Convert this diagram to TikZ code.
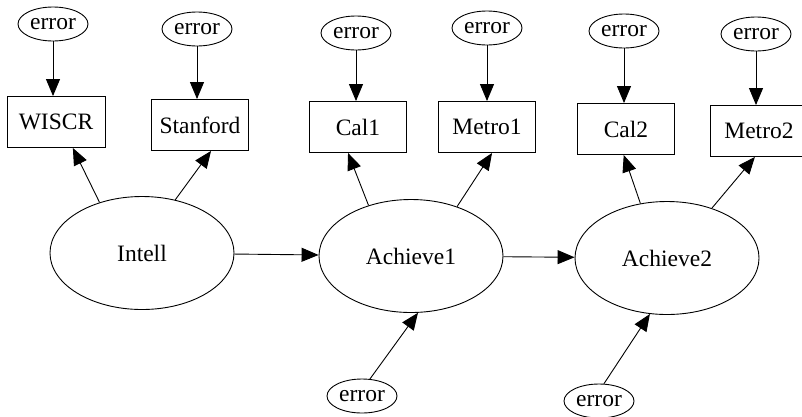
\documentclass[tikz,border=0pt]{standalone}
\usepackage{fontspec}
\setmainfont{Liberation Serif}
\usetikzlibrary{shapes.geometric, arrows.meta}

\begin{document}
\begin{tikzpicture}[x=1pt, y=-1pt, line width=0.9pt,
    every node/.style={font=\fontsize{23.5}{26}\selectfont, inner sep=0pt},
    latent/.style={draw, ellipse, minimum width=184pt, minimum height=113pt},
    errnode/.style={draw, ellipse, minimum width=70pt, minimum height=34pt},
    measure/.style={draw, rectangle, minimum width=97pt, minimum height=51pt},
    path/.style={-{Triangle[length=17pt, width=14pt]}}]

    % ==========================================
    % CANVAS
    % ==========================================
    \useasboundingbox (0,0) rectangle (802,416);

    % ==========================================
    % LATENT VARIABLES
    % ==========================================
    \node[latent] (Intell) at (142,253) {Intell};
    \node[latent] (Ach1)   at (411,256) {Achieve1};
    \node[latent] (Ach2)   at (667,258) {Achieve2};

    % ==========================================
    % OBSERVED INDICATORS
    % ==========================================
    \node[measure, minimum width=98pt] (WISCR) at (56,122) {WISCR};
    \node[measure] (Stanford) at (200,125) {Stanford};
    \node[measure] (Cal1)     at (358,127) {Cal1};
    \node[measure] (Metro1)   at (487,127) {Metro1};
    \node[measure] (Cal2)     at (626,129) {Cal2};
    \node[measure] (Metro2)   at (759,131) {Metro2};

    % ==========================================
    % ERROR TERMS
    % ==========================================
    \node[errnode] (eWISCR)    at (53,24)  {error};
    \node[errnode] (eStanford) at (197,29) {error};
    \node[errnode] (eCal1)     at (356,33) {error};
    \node[errnode] (eMetro1)   at (487,28) {error};
    \node[errnode] (eCal2)     at (624,31) {error};
    \node[errnode] (eMetro2)   at (756,34) {error};
    \node[errnode] (eAch1)     at (362,396) {error};
    \node[errnode] (eAch2)     at (599,401) {error};

    % ==========================================
    % ERRORS INTO INDICATORS
    % ==========================================
    \foreach \e/\m in {eWISCR/WISCR, eStanford/Stanford, eCal1/Cal1,
                       eMetro1/Metro1, eCal2/Cal2, eMetro2/Metro2}
        \draw[path] (\e.south) -- (\e.south |- \m.north);

    % ==========================================
    % LOADINGS
    % ==========================================
    \draw[path] (Intell.130) -- (WISCR.-57);
    \draw[path] (Intell.58)  -- (Stanford.-67);
    \draw[path] (Ach1.130)   -- (Cal1.-111);
    \draw[path] (Ach1.47)    -- (Metro1.-79);
    \draw[path] (Ach2.116)   -- (Cal2.-95);
    \draw[path] (Ach2.48)    -- (Metro2.-99);

    % ==========================================
    % STRUCTURAL PATHS
    % ==========================================
    \draw[path] (Intell) -- (Ach1);
    \draw[path] (Ach1) -- (Ach2);

    % disturbances
    \draw[path] (eAch1.65) -- (Ach1.-83);
    \draw[path] (eAch2.74) -- (Ach2.-107);

\end{tikzpicture}
\end{document}
